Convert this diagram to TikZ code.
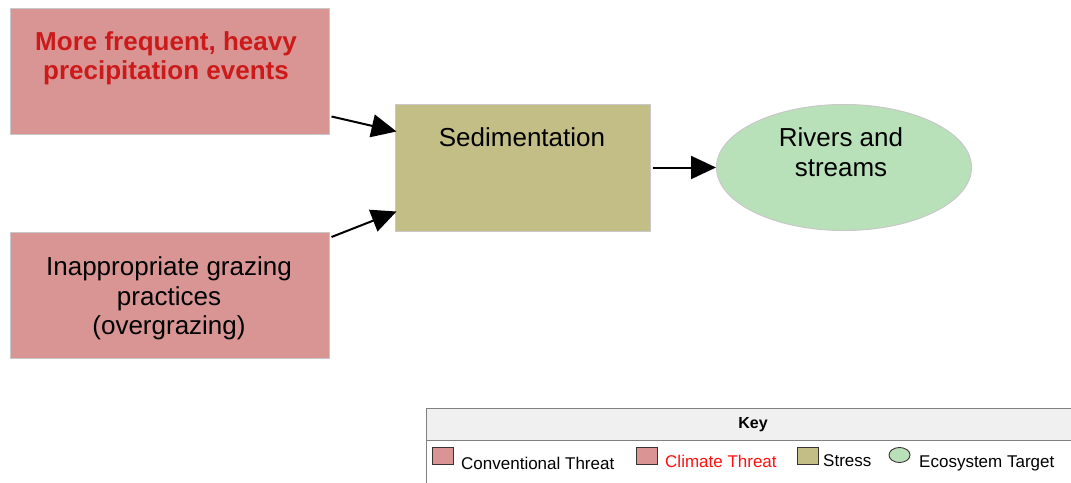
\documentclass[tikz,border=0pt]{standalone}
\usepackage{fontspec}
\setmainfont{Liberation Sans}
\usetikzlibrary{arrows.meta,shapes.geometric,calc}
\definecolor{threatfill}{HTML}{D99594}
\definecolor{stressfill}{HTML}{C2BE85}
\definecolor{targetfill}{HTML}{B9E1B9}
\definecolor{boxedge}{HTML}{C8C8C8}
\definecolor{climatered}{HTML}{CC1A1A}
\definecolor{keyred}{HTML}{FF1010}
\definecolor{keyhead}{HTML}{F0F0F0}
\definecolor{keyedge}{HTML}{808080}
\definecolor{swatchedge}{HTML}{3C3232}
\tikzset{
  threatbox/.style={draw=boxedge, line width=1pt, fill=threatfill, inner sep=0pt,
    minimum width=319pt, minimum height=126pt},
  stressbox/.style={draw=boxedge, line width=1pt, fill=stressfill, inner sep=0pt,
    minimum width=255pt, minimum height=127pt},
  targetell/.style={ellipse, draw=boxedge, line width=1pt, fill=targetfill, inner sep=0pt,
    minimum width=255pt, minimum height=126pt},
  bigtext/.style={font=\fontsize{26}{29.5}\selectfont, align=center, inner sep=0pt},
  link/.style={line width=2pt, -{Triangle[length=25pt,width=23pt]}},
  keytext/.style={font=\fontsize{17}{20}\selectfont, anchor=west, inner sep=0pt},
  swatch/.style={draw=swatchedge, line width=0.9pt, inner sep=0pt,
    minimum width=21pt, minimum height=17pt},
}
\begin{document}
\begin{tikzpicture}[x=1pt,y=1pt]
\useasboundingbox[fill=white] (0,0) rectangle (1071,-482);

% threats, stress and target
\node[threatbox] (precip) at (169.5,-71) {};
\node[threatbox] (grazing) at (169.5,-295.5) {};
\node[stressbox] (sed) at (522.5,-167.5) {};
\node[targetell] (rivers) at (844,-167.5) {};

\node[bigtext, font=\bfseries\fontsize{26}{29}\selectfont, text=climatered] (precipText)
  at (166,-58.5) {More frequent, heavy\\precipitation events};
\node[bigtext] (grazingText) at (169,-298.5) {Inappropriate grazing\\practices\\(overgrazing)};
\node[bigtext] (sedText) at (522,-137) {Sedimentation};
\node[bigtext] (riversText) at (841,-152) {Rivers and\\streams};

% connectors
\draw[link] ($(precip.south east)+(2,18)$) -- ($(sed.north west)+(2,-28)$);
\draw[link] ($(grazing.north east)+(2,-5)$) -- ($(sed.south west)+(2,20)$);
\draw[link] ($(sed.east)+(2,0)$) -- (rivers.west);

% key
\node[draw=keyedge, line width=0.9pt, fill=keyhead, inner sep=0pt, anchor=north west,
  minimum width=650pt, minimum height=32pt] (keyHead) at (426,-408) {};
\node[draw=keyedge, line width=0.9pt, fill=white, inner sep=0pt, anchor=north west,
  minimum width=650pt, minimum height=50pt] (keyBody) at (426,-440) {};
\node[font=\bfseries\fontsize{16}{19}\selectfont, inner sep=0pt] (keyTitle) at (753,-424.5) {Key};

\node[swatch, fill=threatfill] (swConv) at (442.5,-455.5) {};
\node[keytext] (lbConv) at (461,-463) {Conventional Threat};
\node[swatch, fill=threatfill] (swClim) at (647,-455.5) {};
\node[keytext, text=keyred] (lbClim) at (665,-461) {Climate Threat};
\node[swatch, fill=stressfill] (swStress) at (808,-455.5) {};
\node[keytext] (lbStress) at (823,-461) {Stress};
\node[ellipse, draw=swatchedge, line width=0.9pt, fill=targetfill, inner sep=0pt,
  minimum width=21pt, minimum height=15pt] (swTarget) at (899.5,-455) {};
\node[keytext] (lbTarget) at (919,-463) {Ecosystem Target};
\end{tikzpicture}
\end{document}
